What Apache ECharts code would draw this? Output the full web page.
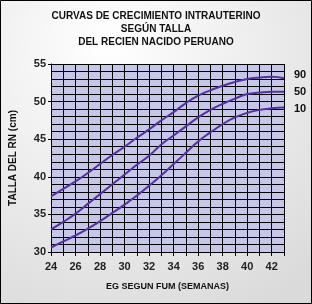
<!DOCTYPE html>
<html><head><meta charset="utf-8">
<script src="https://cdn.jsdelivr.net/npm/echarts@6/dist/echarts.min.js"></script>
<style>html,body{margin:0;padding:0;}#c{width:312px;height:304px;}</style>
</head><body><div id="c"></div>
<script>
const weeks = [24,25,26,27,28,29,30,31,32,33,34,35,36,37,38,39,40,41,42,43];
const p90 = [37.4,38.4,39.4,40.5,41.7,42.9,44.0,45.2,46.3,47.5,48.6,49.8,50.8,51.5,52.1,52.6,53.0,53.2,53.3,53.1];
const p50 = [33.0,34.0,35.1,36.4,37.7,39.0,40.3,41.6,42.8,44.3,45.5,46.7,47.9,48.9,49.7,50.4,51.0,51.2,51.3,51.3];
const p10 = [30.6,31.4,32.2,33.1,34.1,35.2,36.3,37.5,38.8,40.2,41.7,43.2,44.7,45.9,47.0,47.9,48.5,48.9,49.1,49.2];
const seriesNames = ['90','50','10'];
const titleLines = ['CURVAS DE CRECIMIENTO INTRAUTERINO','SEGÚN TALLA','DEL RECIEN NACIDO PERUANO'];
const xName = 'EG SEGUN FUM (SEMANAS)';
const yName = 'TALLA DEL RN (cm)';

const chart = echarts.init(document.getElementById('c'));
const lineColor = '#5530a0';
const font = '"Liberation Sans Narrow","Liberation Sans",Arial,sans-serif';
const labelDy = [-3, 0, 1];
function mk(name, vals, i){
  return {
    name: name, type: 'line', smooth: true, symbol: 'none',
    data: weeks.map((w,k)=>[w, vals[k]]),
    lineStyle: {color: lineColor, width: 2},
    endLabel: {show: true, formatter: name, color: '#111', fontWeight: 'bold', fontSize: 11, fontFamily: 'Liberation Sans, Arial', offset: [2, labelDy[i]]},
    z: 5
  };
}
const axisFont = {color: '#222', fontSize: 11, fontWeight: 'bold', fontFamily: 'Liberation Sans, Arial'};
chart.setOption({
  backgroundColor: {type: 'radial', x: 0.35, y: 0.15, r: 1.0, colorStops: [{offset: 0, color: '#ffffff'}, {offset: 1, color: '#dadada'}]},
  animation: false,
  title: {
    text: titleLines.join('\n'), left: 'center', top: 5,
    textStyle: {fontSize: 10, fontWeight: 'bold', fontFamily: font, color: '#111', lineHeight: 13}
  },
  grid: {left: 50, top: 64, right: 28, bottom: 52, show: true, backgroundColor: '#c6c6e6', borderWidth: 0},
  xAxis: {
    type: 'value', min: 24, max: 43, interval: 1,
    name: xName, nameLocation: 'middle', nameGap: 30,
    nameTextStyle: {fontSize: 9, fontWeight: 'bold', fontFamily: font, color: '#111'},
    axisLine: {show: true, lineStyle: {color: '#000', width: 1}},
    axisTick: {show: true, length: 4, lineStyle: {color: '#000'}},
    splitLine: {show: true, lineStyle: {color: '#000', width: 1}},
    axisLabel: Object.assign({margin: 9, formatter: v => (v % 2 === 0 && v <= 42) ? String(v) : ''}, axisFont)
  },
  yAxis: [{
    type: 'value', min: 30, max: 55, interval: 1,
    name: yName, nameLocation: 'middle', nameGap: 33, nameRotate: 90,
    nameTextStyle: {fontSize: 10, fontWeight: 'bold', fontFamily: font, color: '#111'},
    axisLine: {show: true, lineStyle: {color: '#000', width: 1}},
    axisTick: {show: false},
    splitLine: {show: true, lineStyle: {color: '#000', width: 1}},
    axisLabel: {show: false}
  }, {
    type: 'value', min: 30, max: 55, interval: 5, position: 'left',
    axisLine: {show: false},
    axisTick: {show: true, length: 3, lineStyle: {color: '#000'}},
    splitLine: {show: false},
    axisLabel: Object.assign({margin: 5}, axisFont)
  }],
  graphic: [{type: 'rect', shape: {x: 0.5, y: 0.5, width: 311, height: 303}, style: {fill: 'none', stroke: '#000', lineWidth: 1}, z: 100}],
  series: [mk(seriesNames[0], p90, 0), mk(seriesNames[1], p50, 1), mk(seriesNames[2], p10, 2)]
});
</script></body></html>
